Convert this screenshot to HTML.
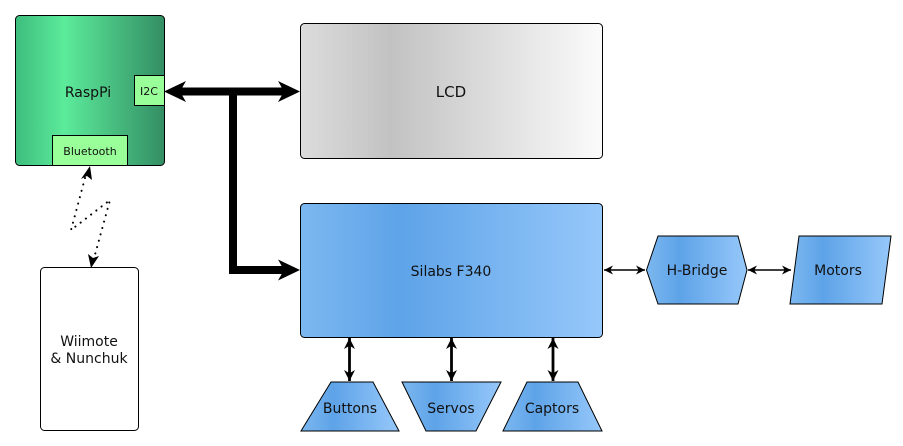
<!DOCTYPE html>
<html><head><meta charset="utf-8"><style>
html,body{margin:0;padding:0;background:#fff;width:903px;height:446px;overflow:hidden}
svg text{font-family:"DejaVu Sans","Liberation Sans",sans-serif;fill:#111}
</style></head><body>
<svg width="903" height="446" viewBox="0 0 903 446" xmlns="http://www.w3.org/2000/svg">
<defs>
<linearGradient id="g" x1="0" x2="1" y1="0" y2="0"><stop offset="0" stop-color="#3dbd7d"/><stop offset="0.33" stop-color="#5ceb9b"/><stop offset="1" stop-color="#338e63"/></linearGradient>
<linearGradient id="gr" x1="0" x2="1" y1="0" y2="0"><stop offset="0" stop-color="#dcdcdc"/><stop offset="0.3" stop-color="#c2c2c2"/><stop offset="1" stop-color="#fbfbfb"/></linearGradient>
<linearGradient id="b" x1="0" x2="1" y1="0" y2="0"><stop offset="0" stop-color="#7cb8f0"/><stop offset="0.33" stop-color="#5ea3e8"/><stop offset="1" stop-color="#96c8fa"/></linearGradient>
<marker id="ah" viewBox="0 0 10 10" refX="10" refY="5" markerWidth="10" markerHeight="9" orient="auto-start-reverse" markerUnits="userSpaceOnUse"><path d="M0,0 L10,5 L0,10 L3,5 Z" fill="#000"/></marker>
<marker id="ad" viewBox="0 0 10 10" refX="10" refY="5" markerWidth="12" markerHeight="11" orient="auto-start-reverse" markerUnits="userSpaceOnUse"><path d="M0,0 L10,5 L0,10 L3,5 Z" fill="#000"/></marker>
</defs>
<rect x="15.5" y="15.5" width="149" height="150" rx="4" fill="url(#g)" stroke="#000"/>
<text x="88" y="97" font-size="14" text-anchor="middle">RaspPi</text>
<rect x="134.5" y="75.5" width="30" height="30" fill="#99ff99" stroke="#000"/>
<text x="149" y="95" font-size="11" text-anchor="middle">I2C</text>
<rect x="52.5" y="135.5" width="75" height="30" fill="#99ff99" stroke="#000"/>
<text x="90" y="155" font-size="11" text-anchor="middle">Bluetooth</text>
<rect x="300.5" y="23.5" width="302" height="135" rx="4" fill="url(#gr)" stroke="#000"/>
<text x="451" y="97" font-size="15" text-anchor="middle">LCD</text>
<rect x="300.5" y="203.5" width="302" height="134" rx="4" fill="url(#b)" stroke="#000"/>
<text x="451" y="276" font-size="14" text-anchor="middle">Silabs F340</text>
<rect x="40.5" y="267.5" width="98" height="163" rx="4" fill="#fff" stroke="#000"/>
<text x="89" y="346" font-size="14" text-anchor="middle">Wiimote</text>
<text x="89" y="363" font-size="14" text-anchor="middle">&amp; Nunchuk</text>
<path d="M180,91.5 H284 M233,91.5 V270 H284" fill="none" stroke="#000" stroke-width="8"/>
<path d="M164,91.5 L186,81 L180,91.5 L186,102 Z" fill="#000"/>
<path d="M300,91.5 L278,81 L284,91.5 L278,102 Z" fill="#000"/>
<path d="M300,270 L278,259.5 L284,270 L278,280.5 Z" fill="#000"/>
<path d="M85,178 L71,230 L110,200 L93,262" fill="none" stroke="#000" stroke-width="2" stroke-dasharray="0.1,6.5" stroke-linecap="round"/>
<path d="M90,166 L92,180 L87,176 L81,179 Z" fill="#000"/>
<path d="M91,268 L88,254 L93,258 L99,256 Z" fill="#000"/>
<polygon points="646.5,270 658,236 738,236 747,270 738,304 658,304" fill="url(#b)" stroke="#000"/>
<text x="697" y="275" font-size="14" text-anchor="middle">H-Bridge</text>
<polygon points="799,236 891,236 882,304 790,304" fill="url(#b)" stroke="#000"/>
<text x="838" y="275" font-size="14" text-anchor="middle">Motors</text>
<line x1="604" y1="270" x2="645" y2="270" stroke="#000" stroke-width="1.5" marker-start="url(#ah)" marker-end="url(#ah)"/>
<line x1="748" y1="270" x2="791" y2="270" stroke="#000" stroke-width="1.5" marker-start="url(#ah)" marker-end="url(#ah)"/>
<polygon points="331,382 373,382 399,431 301,431" fill="url(#b)" stroke="#000"/>
<text x="350" y="413" font-size="14" text-anchor="middle">Buttons</text>
<polygon points="402,382 501,382 476,431 426,431" fill="url(#b)" stroke="#000"/>
<text x="451" y="413" font-size="14" text-anchor="middle">Servos</text>
<polygon points="527,382 578,382 602,431 503,431" fill="url(#b)" stroke="#000"/>
<text x="552" y="413" font-size="14" text-anchor="middle">Captors</text>
<line x1="349.5" y1="338" x2="349.5" y2="381" stroke="#000" stroke-width="2.8" marker-start="url(#ad)" marker-end="url(#ad)"/>
<line x1="451.5" y1="338" x2="451.5" y2="381" stroke="#000" stroke-width="2.8" marker-start="url(#ad)" marker-end="url(#ad)"/>
<line x1="553" y1="338" x2="553" y2="381" stroke="#000" stroke-width="2.8" marker-start="url(#ad)" marker-end="url(#ad)"/>
</svg>
</body></html>
